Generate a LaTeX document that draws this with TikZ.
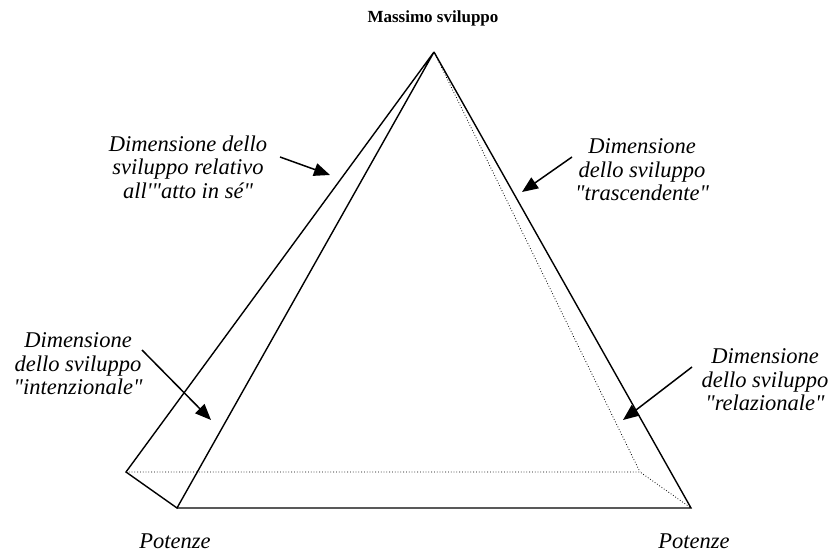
\documentclass[tikz,border=0pt]{standalone}
\usepackage{fontspec}
\setmainfont{Liberation Serif}[Ligatures=TeXOff]
\usetikzlibrary{arrows.meta}
\begin{document}
\begin{tikzpicture}[x=1pt,y=-1pt,
  edge/.style={line width=1.4pt, line join=miter},
  hidden/.style={line width=0.8pt, dotted},
  pointer/.style={line width=1.5pt, -{Triangle[length=16pt,width=13pt]}},
  lab/.style={font=\fontsize{22.5}{23.5}\selectfont\itshape, align=center, inner sep=0pt},
  ttl/.style={font=\fontsize{17}{19}\selectfont\bfseries, inner sep=0pt}]
\useasboundingbox (0,0) rectangle (832,556);
\coordinate (A) at (434,52);
\coordinate (BL) at (126,472);
\coordinate (FL) at (177,508);
\coordinate (FR) at (691,508);
\coordinate (BR) at (640,472);
% hidden edges
\draw[hidden] (A) -- (BR);
\draw[hidden] (BL) -- (BR) -- (FR);
% visible edges
\draw[edge] (A) -- (BL) -- (FL) -- (A);
\draw[edge] (FL) -- (FR) -- (A);
% labels
\node[ttl] (top) at (433,18) {Massimo sviluppo};
\node[lab] (l1) at (188,167) {Dimensione dello\\sviluppo relativo\\all'"atto in sé"};
\node[lab] (r1) at (642,170) {Dimensione\\dello sviluppo\\"trascendente"};
\node[lab] (l2) at (78,364) {Dimensione\\dello sviluppo\\"intenzionale"};
\node[lab] (r2) at (765,380) {Dimensione\\dello sviluppo\\"relazionale"};
\node[lab] (p1) at (175,541) {Potenze};
\node[lab] (p2) at (694,541) {Potenze};
% arrows
\coordinate (a1s) at (280,157); \coordinate (a1e) at (330,175);
\coordinate (a2s) at (572,157); \coordinate (a2e) at (522,192);
\coordinate (a3s) at (142,350); \coordinate (a3e) at (211,420);
\coordinate (a4s) at (692,367); \coordinate (a4e) at (623,420);
\draw[pointer] (a1s) -- (a1e);
\draw[pointer] (a2s) -- (a2e);
\draw[pointer] (a3s) -- (a3e);
\draw[pointer] (a4s) -- (a4e);
\end{tikzpicture}
\end{document}
